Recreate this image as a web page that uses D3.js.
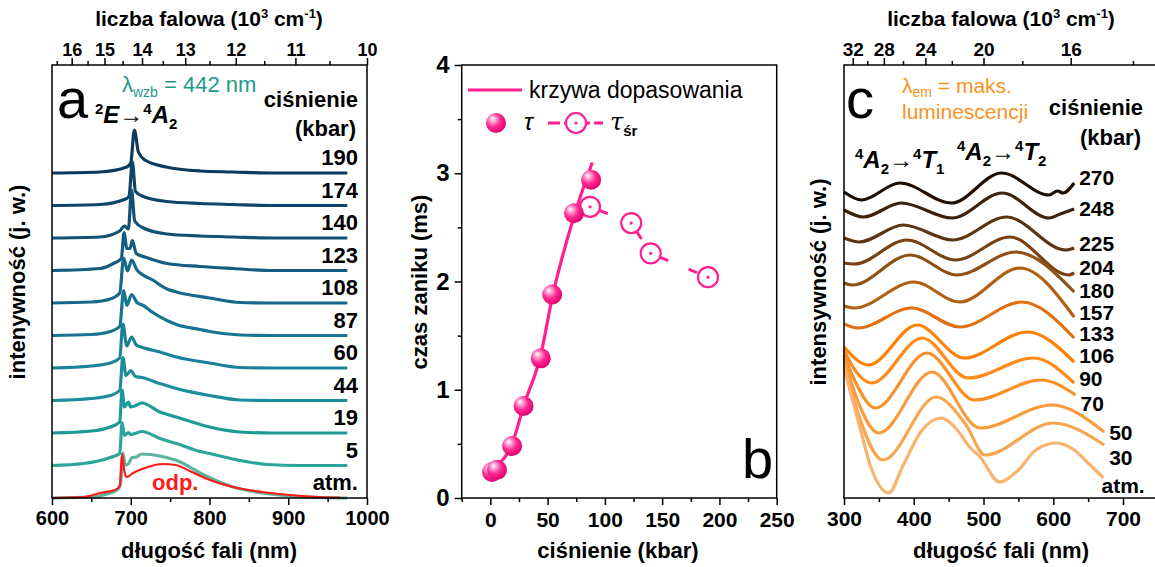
<!DOCTYPE html>
<meta charset="utf-8">
<script src="https://d3js.org/d3.v7.min.js"></script>
<style>
  body { margin: 0; background: #fff; }
  text { font-family: "Liberation Sans", Arial, Helvetica, sans-serif; }
</style>
<div id="chart"></div>
<script>
// ---------- panel a: emission spectra, [nm, intensity above own baseline] ----------
const specOdp = [[600,0],[640,1],[661,5],[680,8],[686,12],[689,44],[692,26],[695,21],[703,25],[718,30],[740,34],[757,33],[775,27],[794,20],[830,11],[867,6],[902,3],[940,1],[966,0.5]];
const specAtm = [[600,0],[650,1],[670,4],[684,9],[687,14],[690,45],[693,33],[697,34],[701,40],[707,41],[714,44],[737,42],[763,36],[788,25],[830,11],[867,5],[902,2],[940,0.5],[975,0]];
const spec5   = [[600,0],[640,2],[674,8],[686,12],[689,43],[692,30],[697,33],[700,31],[705,32],[714,34],[737,27],[758,22],[788,14],[800,12],[839,5],[873,1],[915,0],[975,0]];
const spec19  = [[600,0],[650,2],[674,6],[686,11],[689,43],[692,26],[697,31],[700,26],[705,27],[714,30],[737,21],[758,16],[800,6],[839,1],[880,0],[975,0]];
const spec44  = [[600,0],[650,2],[674,5],[686,10],[690,43],[694,25],[700,30],[706,24],[714,23],[737,17],[758,12],[800,5],[839,0.5],[880,0],[975,0]];
const spec60  = [[600,0],[650,2],[674,5],[686,10],[690,44],[695,22],[701,31],[707,23],[713,21],[737,16],[758,11],[800,5],[839,0.5],[880,0],[975,0]];
const spec87  = [[600,0],[650,1],[674,4],[686,9],[691,45],[695,30],[701,41],[708,33],[716,30],[728,23],[746,15],[758,11],[788,6],[800,4],[839,0.5],[880,0],[975,0]];
const spec108 = [[600,0],[650,1],[674,4],[686,10],[691,45],[696,32],[701,43],[708,33],[728,23],[746,14],[758,11],[800,5],[839,0.5],[880,0],[975,0]];
const spec123 = [[600,0],[661,2],[678,7],[688,12],[691.5,38],[695,22],[699,22],[702,30],[707,17],[720,13],[746,7],[788,4],[830,2],[880,0],[975,0]];
const spec140 = [[600,0],[661,1],[686,7],[692,12],[697,9],[701,48],[705,17],[716,10],[746,4],[788,2],[830,1],[880,0],[975,0]];
const spec174 = [[600,0],[661,1],[695,7],[698,10],[702,44],[706,14],[716,9],[746,4],[788,2],[830,1],[880,0],[975,0]];
const spec190 = [[600,0],[661,1],[695,6],[700,10],[704.6,43],[709.7,21],[718,13],[745,6],[788,2],[830,1],[880,0],[975,0]];

const pressuresA = ["atm.", "5", "19", "44", "60", "87", "108", "123", "140", "174", "190"];
const spectraA = [specAtm, spec5, spec19, spec44, spec60, spec87, spec108, spec123, spec140, spec174, spec190];
const colorsA = ["#5db39e", "#2ca69a", "#1c9a98", "#1b8d9b", "#1a8199", "#187592", "#16698a", "#145d80", "#125174", "#0f4569", "#0c3a5e"];
const wavenumberTicksA = [16, 15, 14, 13, 12, 11, 10];
const wavenumberMinorA = [16.5, 15.5, 14.5, 13.5, 12.5, 11.5, 10.5];

// ---------- panel b: decay times ----------
const pressTau = [1.5, 5.8, 19, 29, 44, 54, 73, 88];
const tau = [0.24, 0.26, 0.48, 0.85, 1.29, 1.88, 2.63, 2.94];
const pressTauAvg = [87, 123, 140, 190];
const tauAvg = [2.69, 2.54, 2.26, 2.04];
const pressFit = [3, 19, 29, 44, 54, 73, 89];
const tauFit = [0.29, 0.5, 0.85, 1.32, 1.85, 2.6, 3.1];

// ---------- panel c: excitation spectra, [nm, stacked intensity] ----------
const c270 = [[300,306],[325,298],[380,315],[454,295],[526,325],[594,303],[606,307],[614,305],[630,315]];
const c248 = [[300,288],[328,281],[382,295],[455,280],[527,305],[594,280],[610,284],[630,289]];
const c225 = [[300,260],[322,256],[385,273],[456,258],[533,281],[618,248],[630,250]];
const c204 = [[300,235],[315,234],[390,258],[460,238],[538,261],[622,223],[630,225]];
const c180 = [[300,215],[312,213],[395,243],[462,223],[546,246],[630,206]];
const c157 = [[300,192],[315,190],[400,216],[466,196],[552,230],[630,181]];
const c133 = [[300,174],[320,170],[397,190],[466,171],[555,196],[630,160]];
const c106 = [[300,151],[335,133],[405,173],[472,140],[563,166],[630,136]];
const c90  = [[300,148],[312,132],[340,115],[412,160],[478,120],[572,140],[630,115]];
const c70  = [[300,143],[315,118],[345,90],[419,145],[487,98],[583,118],[632,103]];
const c50  = [[300,139],[318,100],[350,65],[426,126],[495,70],[598,93],[673,66]];
const c30  = [[300,135],[320,85],[356,38],[432,101],[475,73],[502,43],[600,75],[673,53]];
const cAtm = [[300,130],[320,78],[340,28],[364,5],[385,33],[410,66],[439,80],[460,70],[480,51],[495,41],[523,16],[550,28],[575,48],[604,55],[630,48],[650,35],[672,20]];

const pressuresC = ["270", "248", "225", "204", "180", "157", "133", "106", "90", "70", "50", "30", "atm."];
const spectraC = [c270, c248, c225, c204, c180, c157, c133, c106, c90, c70, c50, c30, cAtm];
const colorsC = ["#1e0e02", "#3d2209", "#5b3410", "#774312", "#8e5014", "#b06010", "#e07010", "#ff8000", "#ff8a1a", "#fd8f28", "#fa9a3a", "#f8a550", "#f9b36c"];
const wavenumberTicksC = [32, 28, 24, 20, 16];
const wavenumberMinorC = [30, 26, 22, 18, 14];

// ---------- setup ----------
const W = 1155, H = 567;
const FONT = "'Liberation Sans', Arial, Helvetica, sans-serif";
const yTop = 65, yBot = 498;
const STEP = 32.5;   // vertical offset between stacked spectra in panel a

const svg = d3.select("#chart").append("svg")
    .attr("width", W).attr("height", H)
    .attr("font-family", FONT);
svg.append("rect").attr("width", W).attr("height", H).attr("fill", "#fff");

const xA = d3.scaleLinear().domain([600, 1000]).range([52, 367]);
const yA = d3.scaleLinear().domain([0, 433]).range([yBot, yTop]);
const xB = d3.scaleLinear().domain([-25, 250]).range([461.7, 776.7]);
const yB = d3.scaleLinear().domain([0, 4]).range([yBot, yTop]);
const xC = d3.scaleLinear().domain([300, 750]).range([844, 1157.9]);
const yC = d3.scaleLinear().domain([0, 433]).range([yBot, yTop]);

function styleAxis(g, size) {
    g.attr("font-family", FONT).attr("font-size", size).attr("font-weight", "bold");
    g.select(".domain").remove();
    g.selectAll("line").attr("stroke", "#000").attr("stroke-width", 1.5);
    g.selectAll("text").attr("fill", "#000");
}

function frame(x0, x1) {
    svg.append("rect")
        .attr("x", x0).attr("y", yTop)
        .attr("width", x1 - x0).attr("height", yBot - yTop)
        .attr("fill", "none").attr("stroke", "#000").attr("stroke-width", 1.5);
}

function wavenumberTitle(cx) {
    const t = svg.append("text").attr("x", cx).attr("y", 26)
        .attr("text-anchor", "middle").attr("font-size", 21).attr("font-weight", "bold");
    t.append("tspan").text("liczba falowa (10");
    t.append("tspan").attr("dy", -8).attr("font-size", 13).text("3");
    t.append("tspan").attr("dy", 8).text(" cm");
    t.append("tspan").attr("dy", -8).attr("font-size", 13).text("-1");
    t.append("tspan").attr("dy", 8).text(")");
}

function bottomTitle(cx, label) {
    svg.append("text").attr("x", cx).attr("y", 558)
        .attr("text-anchor", "middle").attr("font-size", 22).attr("font-weight", "bold")
        .text(label);
}

function leftTitle(x, label) {
    svg.append("text")
        .attr("transform", "translate(" + x + ",282) rotate(-90)")
        .attr("text-anchor", "middle").attr("font-size", 22).attr("font-weight", "bold")
        .text(label);
}

function topWavenumberAxis(x, majors, minors, size) {
    const inRange = k => { const nm = 1e4 / k; return nm >= x.domain()[0] && nm <= x.domain()[1]; };
    const maj = majors.filter(inRange), mnr = minors.filter(inRange);
    svg.append("g").attr("transform", "translate(0," + yTop + ")")
        .call(d3.axisTop(x).tickValues(maj.map(k => 1e4 / k)).tickSize(7).tickPadding(2)
            .tickFormat(d => Math.round(1e4 / d)))
        .call(g => styleAxis(g, size));
    svg.append("g").attr("transform", "translate(0," + yTop + ")")
        .call(d3.axisTop(x).tickValues(mnr.map(k => 1e4 / k)).tickSize(4).tickFormat(""))
        .call(g => styleAxis(g, size));
}

// ================= panel a =================
const lineA = lvl => d3.line()
    .x(d => xA(d[0])).y(d => yA(d[1] + lvl * STEP))
    .curve(d3.curveMonotoneX);

for (let i = spectraA.length - 1; i >= 0; i--) {
    svg.append("path").datum(spectraA[i])
        .attr("d", lineA(i))
        .attr("fill", "none").attr("stroke", colorsA[i])
        .attr("stroke-width", 3.2).attr("stroke-linejoin", "round");
}
svg.append("path").datum(specOdp)
    .attr("d", lineA(0))
    .attr("fill", "none").attr("stroke", "#ff1a1a").attr("stroke-width", 2.2);

frame(xA.range()[0], xA.range()[1]);

svg.append("g").attr("transform", "translate(0," + yBot + ")")
    .call(d3.axisBottom(xA).tickValues([600, 700, 800, 900, 1000]).tickSize(7).tickPadding(6).tickFormat(d3.format("d")))
    .call(g => styleAxis(g, 20));
svg.append("g").attr("transform", "translate(0," + yBot + ")")
    .call(d3.axisBottom(xA).tickValues([650, 750, 850, 950]).tickSize(4).tickFormat(""))
    .call(g => styleAxis(g, 20));
topWavenumberAxis(xA, wavenumberTicksA, wavenumberMinorA, 18);

wavenumberTitle(209);
bottomTitle(209, "długość fali (nm)");
leftTitle(25, "intenywność (j. w.)");

// pressure labels
svg.append("g").selectAll("text").data(pressuresA).join("text")
    .attr("x", 358).attr("y", (d, i) => yA(i * STEP) - 8)
    .attr("text-anchor", "end").attr("font-size", 22).attr("font-weight", "bold")
    .text(d => d);
svg.append("text").attr("x", 358).attr("y", 107).attr("text-anchor", "end")
    .attr("font-size", 22).attr("font-weight", "bold").text("ciśnienie");
svg.append("text").attr("x", 356).attr("y", 136).attr("text-anchor", "end")
    .attr("font-size", 22).attr("font-weight", "bold").text("(kbar)");
svg.append("text").attr("x", 152).attr("y", 490)
    .attr("font-size", 22).attr("font-weight", "bold").attr("fill", "#ff1a1a").text("odp.");

svg.append("text").attr("x", 57).attr("y", 118).attr("font-size", 56).text("a");
{
    const t = svg.append("text").attr("x", 95).attr("y", 123).attr("font-size", 24).attr("font-weight", "bold");
    t.append("tspan").attr("dy", -9).attr("font-size", 15).text("2");
    t.append("tspan").attr("dy", 9).attr("font-style", "italic").text("E");
    t.append("tspan").attr("font-weight", "normal").text("→");
    t.append("tspan").attr("dy", -9).attr("font-size", 15).text("4");
    t.append("tspan").attr("dy", 9).attr("font-style", "italic").text("A");
    t.append("tspan").attr("dy", 6).attr("font-size", 15).text("2");
}
{
    const t = svg.append("text").attr("x", 122).attr("y", 92).attr("font-size", 22).attr("fill", "#1e9a8c");
    t.append("tspan").text("λ");
    t.append("tspan").attr("dy", 5).attr("font-size", 14).text("wzb");
    t.append("tspan").attr("dy", -5).text(" = 442 nm");
}

// ================= panel b =================
const PINK = "#ff1f8e";
const defs = svg.append("defs");
const grad = defs.append("radialGradient").attr("id", "ball")
    .attr("cx", "40%").attr("cy", "40%").attr("r", "65%").attr("fx", "32%").attr("fy", "28%");
grad.append("stop").attr("offset", "0%").attr("stop-color", "#ffffff");
grad.append("stop").attr("offset", "22%").attr("stop-color", "#ffa6d3");
grad.append("stop").attr("offset", "55%").attr("stop-color", "#ff2893");
grad.append("stop").attr("offset", "100%").attr("stop-color", "#dc006c");

frame(xB.range()[0], xB.range()[1]);

svg.append("g").attr("transform", "translate(" + xB.range()[0] + ",0)")
    .call(d3.axisLeft(yB).tickValues([0, 1, 2, 3, 4]).tickSize(7).tickPadding(5).tickFormat(d3.format("d")))
    .call(g => styleAxis(g, 24));
svg.append("g").attr("transform", "translate(" + xB.range()[0] + ",0)")
    .call(d3.axisLeft(yB).tickValues([0.5, 1.5, 2.5, 3.5]).tickSize(4).tickFormat(""))
    .call(g => styleAxis(g, 24));
svg.append("g").attr("transform", "translate(0," + yBot + ")")
    .call(d3.axisBottom(xB).tickValues([0, 50, 100, 150, 200, 250]).tickSize(7).tickPadding(7).tickFormat(d3.format("d")))
    .call(g => styleAxis(g, 21));
svg.append("g").attr("transform", "translate(0," + yBot + ")")
    .call(d3.axisBottom(xB).tickValues([-25, 25, 75, 125, 175, 225]).tickSize(4).tickFormat(""))
    .call(g => styleAxis(g, 21));

bottomTitle(618, "ciśnienie (kbar)");
leftTitle(427, "czas zaniku (ms)");

// fit curve
svg.append("path").datum(d3.zip(pressFit, tauFit))
    .attr("d", d3.line().x(d => xB(d[0])).y(d => yB(d[1])).curve(d3.curveMonotoneX))
    .attr("fill", "none").attr("stroke", PINK).attr("stroke-width", 3.2);

// dashed connector of the average lifetimes, starting at each marker edge
const R = 10;
const avgPts = d3.zip(pressTauAvg, tauAvg).map(d => [xB(d[0]), yB(d[1])]);
svg.append("g").selectAll("line").data(d3.pairs(avgPts)).join("line")
    .each(function (d) {
        const [a, b] = d;
        const len = Math.hypot(b[0] - a[0], b[1] - a[1]);
        const ux = (b[0] - a[0]) / len, uy = (b[1] - a[1]) / len;
        d3.select(this)
            .attr("x1", a[0] + ux * R).attr("y1", a[1] + uy * R)
            .attr("x2", b[0] - ux * R).attr("y2", b[1] - uy * R);
    })
    .attr("stroke", PINK).attr("stroke-width", 3).attr("stroke-dasharray", "9,22");

svg.append("g").selectAll("circle").data(avgPts).join("circle")
    .attr("cx", d => d[0]).attr("cy", d => d[1]).attr("r", R)
    .attr("fill", "#fff").attr("stroke", PINK).attr("stroke-width", 2.2);
svg.append("g").selectAll("circle").data(avgPts).join("circle")
    .attr("cx", d => d[0]).attr("cy", d => d[1]).attr("r", 1.6).attr("fill", PINK);

svg.append("g").selectAll("circle").data(d3.zip(pressTau, tau)).join("circle")
    .attr("cx", d => xB(d[0])).attr("cy", d => yB(d[1])).attr("r", R)
    .attr("fill", "url(#ball)");

// legend
svg.append("line").attr("x1", 468).attr("x2", 522).attr("y1", 90).attr("y2", 90)
    .attr("stroke", PINK).attr("stroke-width", 3);
svg.append("text").attr("x", 529).attr("y", 98).attr("font-size", 23).text("krzywa dopasowania");
svg.append("circle").attr("cx", 496).attr("cy", 123).attr("r", R).attr("fill", "url(#ball)");
svg.append("text").attr("x", 524).attr("y", 130).attr("font-size", 24)
    .attr("font-style", "italic").attr("font-family", "'DejaVu Serif', serif").text("τ");
svg.append("line").attr("x1", 548).attr("x2", 603).attr("y1", 123).attr("y2", 123)
    .attr("stroke", PINK).attr("stroke-width", 3).attr("stroke-dasharray", "12,4,3,4");
svg.append("circle").attr("cx", 576).attr("cy", 123).attr("r", R)
    .attr("fill", "#fff").attr("stroke", PINK).attr("stroke-width", 2.2);
svg.append("circle").attr("cx", 576).attr("cy", 123).attr("r", 1.6).attr("fill", PINK);
{
    const t = svg.append("text").attr("x", 610).attr("y", 130).attr("font-size", 24);
    t.append("tspan").attr("font-style", "italic").attr("font-family", "'DejaVu Serif', serif").text("τ");
    t.append("tspan").attr("dy", 6).attr("font-size", 15).attr("font-weight", "bold").text("śr");
}
svg.append("text").attr("x", 742).attr("y", 478).attr("font-size", 56).text("b");

// ================= panel c =================
const lineC = d3.line().x(d => xC(d[0])).y(d => yC(d[1])).curve(d3.curveMonotoneX);
spectraC.forEach((s, i) => {
    svg.append("path").datum(s).attr("d", lineC)
        .attr("fill", "none").attr("stroke", colorsC[i])
        .attr("stroke-width", 3.2).attr("stroke-linejoin", "round");
});

frame(xC.range()[0], xC.range()[1]);

svg.append("g").attr("transform", "translate(0," + yBot + ")")
    .call(d3.axisBottom(xC).tickValues([300, 400, 500, 600, 700]).tickSize(7).tickPadding(6).tickFormat(d3.format("d")))
    .call(g => styleAxis(g, 21));
svg.append("g").attr("transform", "translate(0," + yBot + ")")
    .call(d3.axisBottom(xC).tickValues([350, 450, 550, 650, 750]).tickSize(4).tickFormat(""))
    .call(g => styleAxis(g, 21));
topWavenumberAxis(xC, wavenumberTicksC, wavenumberMinorC, 19);

wavenumberTitle(1001);
bottomTitle(1001, "długość fali (nm)");
leftTitle(826, "intensywność (j. w.)");

// pressure labels right of each trace end, at the heights used in the reference
const labelLevelC = [321, 290, 255, 231, 208, 186, 165, 143, 120, 95, 66, 41, 13];
svg.append("g").selectAll("text").data(spectraC).join("text")
    .attr("x", (d, i) => xC(d[d.length - 1][0]) + (i === spectraC.length - 1 ? -2 : 5))
    .attr("y", (d, i) => yC(labelLevelC[i]) + 7.5)
    .attr("font-size", 21).attr("font-weight", "bold")
    .text((d, i) => pressuresC[i]);
svg.append("text").attr("x", 1143).attr("y", 115).attr("text-anchor", "end")
    .attr("font-size", 22).attr("font-weight", "bold").text("ciśnienie");
svg.append("text").attr("x", 1141).attr("y", 145).attr("text-anchor", "end")
    .attr("font-size", 22).attr("font-weight", "bold").text("(kbar)");

svg.append("text").attr("x", 846).attr("y", 118).attr("font-size", 56).text("c");
{
    const t = svg.append("text").attr("x", 902).attr("y", 93).attr("font-size", 21).attr("fill", "#f7931e");
    t.append("tspan").text("λ");
    t.append("tspan").attr("dy", 4).attr("font-size", 14).text("em");
    t.append("tspan").attr("dy", -4).text(" = maks.");
    svg.append("text").attr("x", 902).attr("y", 119).attr("font-size", 21).attr("fill", "#f7931e")
        .text("luminescencji");
}
function transition(x, y, last) {
    const t = svg.append("text").attr("x", x).attr("y", y).attr("font-size", 24).attr("font-weight", "bold");
    t.append("tspan").attr("dy", -9).attr("font-size", 15).text("4");
    t.append("tspan").attr("dy", 9).attr("font-style", "italic").text("A");
    t.append("tspan").attr("dy", 6).attr("font-size", 15).text("2");
    t.append("tspan").attr("dy", -6).attr("font-weight", "normal").text("→");
    t.append("tspan").attr("dy", -9).attr("font-size", 15).text("4");
    t.append("tspan").attr("dy", 9).attr("font-style", "italic").text("T");
    t.append("tspan").attr("dy", 6).attr("font-size", 15).text(last);
}
transition(855, 168, "1");
transition(957, 160, "2");
</script>
